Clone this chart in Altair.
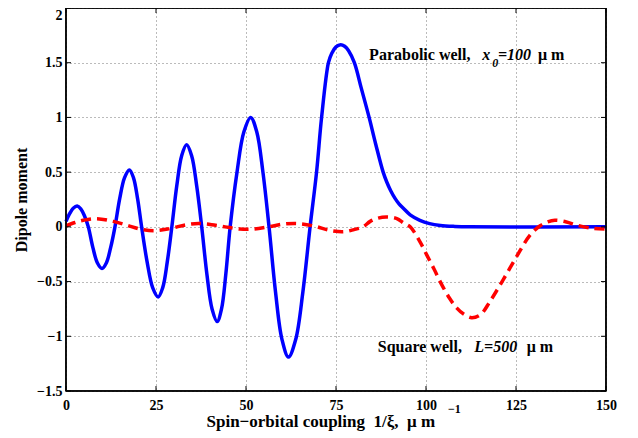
import altair as alt
import pandas as pd

# ---- data ----
blue_x = [0, 1.0, 2.0, 3.1, 4.1, 5.2, 6.2, 7.47, 8.73, 10.0, 11.2, 12.4, 13.6,
          14.93, 16.27, 17.6, 18.73, 19.87, 21.0, 22.53, 24.07, 25.6, 26.87, 28.13,
          29.4, 30.77, 32.13, 33.5, 34.9, 36.3, 37.7, 39.13, 40.57, 42.0, 43.2, 44.4,
          45.6, 47.5, 49.4, 51.3, 53.0, 54.7, 56.4, 58.2, 60.0, 61.8, 63.8, 65.8, 67.8,
          69.6, 71.0, 72.9, 73.8, 75.0, 76.3, 77.4, 78.5, 80.1, 82.0, 84.2, 86.0, 88.1,
          89.1, 90.2, 91.4, 92.5, 93.7, 95.6, 98.3, 101.0, 104.0, 108.0, 112.0, 150.0]
blue_y = [0.05, 0.12, 0.17, 0.19, 0.165, 0.095, 0.0, -0.19, -0.33, -0.38, -0.33, -0.19, 0.0,
          0.26, 0.45, 0.52, 0.45, 0.26, 0.0, -0.32, -0.555, -0.64, -0.555, -0.32,
          0.0, 0.375, 0.65, 0.75, 0.65, 0.375, 0.0, -0.43, -0.75, -0.865, -0.75, -0.43,
          0.0, 0.5, 0.866, 1.0, 0.866, 0.5, 0.0, -0.595, -1.03, -1.19, -1.03, -0.595, 0.0,
          0.5, 1.0, 1.5, 1.585, 1.645, 1.665, 1.65, 1.61, 1.5, 1.27, 1.0, 0.76, 0.5,
          0.41, 0.33, 0.26, 0.21, 0.17, 0.11, 0.06, 0.03, 0.013, 0.004, 0.0, 0.0]

red_x = [0, 2.5, 4.8, 8.5, 13.1, 16.9, 20.6, 24.7, 28.9, 33.5, 36.8, 40.5, 44.2, 48.3,
         52.0, 56.2, 60.4, 64.5, 69.2, 72.9, 77.0, 80.0, 82.5, 84.5, 86.7, 89.1, 91.9,
         93.8, 95.6, 98.3, 100.2, 102.3, 104.4, 106.5, 108.5, 110.6, 112.7, 115.2,
         117.8, 121.5, 125.2, 128.9, 131.7, 133.8, 135.8, 139.0, 141.9, 146.5, 150.0]
red_y = [0.01, 0.04, 0.06, 0.075, 0.05, 0.015, -0.02, -0.035, -0.015, 0.02, 0.03, 0.02, 0.0, -0.02,
         -0.02, 0.0, 0.025, 0.03, 0.005, -0.03, -0.045, -0.025, 0.0, 0.05, 0.08, 0.09, 0.075,
         0.035, 0.0, -0.135, -0.256, -0.39, -0.53, -0.65, -0.74, -0.80, -0.83, -0.80,
         -0.68, -0.48, -0.27, -0.075, 0.01, 0.045, 0.06, 0.045, 0.015, -0.015, -0.02]

x_ticks = [0, 25, 50, 75, 100, 125, 150]
y_ticks = [-1.5, -1, -0.5, 0, 0.5, 1, 1.5, 2]

# ---- layout ----
W, H = 540, 383
FONT = "Liberation Serif"
XMIN, XMAX, YMIN, YMAX = 0, 150, -1.5, 2


def px(v):
    return (v - XMIN) / (XMAX - XMIN) * W


def py(v):
    return (YMAX - v) / (YMAX - YMIN) * H


xs = alt.Scale(domain=[XMIN, XMAX], nice=False, zero=False)
ys = alt.Scale(domain=[YMIN, YMAX], nice=False, zero=False)

common_axis = dict(
    labelFont=FONT, labelFontSize=14, labelFontWeight="bold", labelColor="black",
    titleFont=FONT, titleFontWeight="bold", titleColor="black",
    ticks=False, domain=False, grid=True, gridDash=[1, 3], gridColor="#777777",
    gridWidth=1, gridOpacity=1, labelFlush=False, labelOverlap=False,
)

x_axis = alt.Axis(values=x_ticks, format="d",
                  title="Spin\u2212orbital coupling\u00a0\u00a01/\u03be,\u00a0\u00a0\u03bc m",
                  titleX=140, titleY=30, titleAlign="left", titleBaseline="middle",
                  titleFontSize=17, labelPadding=7, **common_axis)
y_axis = alt.Axis(values=y_ticks, format="~r", title="Dipole moment", titleX=-45, titleY=191.5,
                  titleAngle=270, titleAlign="center", titleBaseline="middle",
                  titleFontSize=16, labelPadding=4,
                  labelBaseline={"condition": {"test": "datum.value >= 2", "value": "top"},
                                 "value": "middle"},
                  **common_axis)

blue_df = pd.DataFrame({"x": blue_x, "y": blue_y})
red_df = pd.DataFrame({"x": red_x, "y": red_y})

blue = alt.Chart(blue_df).mark_line(color="#0000ff", strokeWidth=3.5, interpolate="catmull-rom").encode(
    x=alt.X("x:Q", scale=xs, axis=x_axis),
    y=alt.Y("y:Q", scale=ys, axis=y_axis),
)
red = alt.Chart(red_df).mark_line(color="#ff0000", strokeWidth=3.5, strokeDash=[10, 6],
                                  interpolate="catmull-rom").encode(
    x=alt.X("x:Q", scale=xs, axis=x_axis),
    y=alt.Y("y:Q", scale=ys, axis=y_axis),
)

# inward tick marks on all four sides
xt = pd.DataFrame({"x": x_ticks})
yt = pd.DataFrame({"y": y_ticks})
tick_bottom = alt.Chart(xt).mark_rule(color="black", strokeWidth=1).encode(
    x=alt.X("x:Q", scale=xs, axis=x_axis), y=alt.value(H), y2=alt.value(H - 5))
tick_top = alt.Chart(xt).mark_rule(color="black", strokeWidth=1).encode(
    x=alt.X("x:Q", scale=xs, axis=x_axis), y=alt.value(0), y2=alt.value(5))
tick_left = alt.Chart(yt).mark_rule(color="black", strokeWidth=1).encode(
    y=alt.Y("y:Q", scale=ys, axis=y_axis), x=alt.value(0), x2=alt.value(5))
tick_right = alt.Chart(yt).mark_rule(color="black", strokeWidth=1).encode(
    y=alt.Y("y:Q", scale=ys, axis=y_axis), x=alt.value(W), x2=alt.value(W - 5))

one = pd.DataFrame({"a": [0]})

# box frame
frame = [
    alt.Chart(one).mark_rule(color="black", strokeWidth=1.5).encode(
        x=alt.value(0), y=alt.value(0), y2=alt.value(H)),
    alt.Chart(one).mark_rule(color="black", strokeWidth=1.5).encode(
        x=alt.value(W), y=alt.value(0), y2=alt.value(H)),
    alt.Chart(one).mark_rule(color="black", strokeWidth=1.5).encode(
        y=alt.value(0), x=alt.value(0), x2=alt.value(W)),
    alt.Chart(one).mark_rule(color="black", strokeWidth=1.5).encode(
        y=alt.value(H), x=alt.value(0), x2=alt.value(W)),
]


def label(txt, xpix, ypix, italic=False, size=16, baseline="alphabetic"):
    return alt.Chart(one).mark_text(
        text=txt, align="left", baseline=baseline, font=FONT, fontSize=size,
        fontWeight="bold", fontStyle="italic" if italic else "normal", color="black",
    ).encode(x=alt.value(xpix), y=alt.value(ypix))


texts = [
    # Parabolic well annotation
    label("Parabolic well,", px(84.2), py(1.522)),
    label("x", px(115.6), py(1.522), italic=True),
    label("0", px(118.4), py(1.465), italic=True, size=12),
    label("=100", px(120.0), py(1.522), italic=True),
    label("\u03bc m", px(131.1), py(1.522)),
    # Square well annotation
    label("Square well,", px(86.6), py(-1.146)),
    label("L=500", px(113.4), py(-1.146), italic=True),
    label("\u03bc m", px(128.0), py(-1.146)),
    # superscript of x-axis title
    label("\u22121", 382, 400.5, size=12, baseline="middle"),
]

chart = alt.layer(blue, red, tick_bottom, tick_top, tick_left, tick_right, *frame, *texts).properties(
    width=W, height=H,
    background="white",
    autosize=alt.AutoSizeParams(type="none"),
    padding={"left": 58, "top": 0, "right": 24, "bottom": 46},
).configure_view(stroke="black", strokeWidth=1.5)

chart.save("out.html", embed_options={"renderer": "svg", "actions": False})
